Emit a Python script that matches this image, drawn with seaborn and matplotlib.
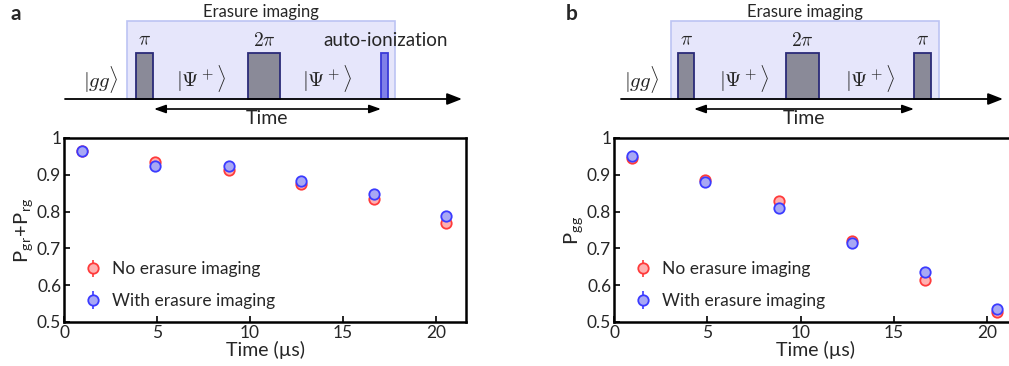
import numpy as np
import matplotlib
matplotlib.use("Agg")
import matplotlib.pyplot as plt
from matplotlib.patches import Rectangle
from matplotlib.ticker import FixedLocator, FixedFormatter
import seaborn as sns

# ---- data -------------------------------------------------------------
time_us = [0.95, 4.9, 8.85, 12.75, 16.65, 20.55]

# panel a: P_gr + P_rg
a_no_erasure = [0.965, 0.936, 0.912, 0.875, 0.833, 0.769]
a_no_erasure_err = [0.005, 0.006, 0.006, 0.007, 0.008, 0.010]
a_with_erasure = [0.964, 0.923, 0.923, 0.882, 0.847, 0.788]
a_with_erasure_err = [0.005, 0.006, 0.006, 0.007, 0.008, 0.010]

# panel b: P_gg
b_no_erasure = [0.947, 0.887, 0.828, 0.721, 0.615, 0.526]
b_no_erasure_err = [0.006, 0.007, 0.009, 0.011, 0.013, 0.012]
b_with_erasure = [0.950, 0.881, 0.809, 0.714, 0.636, 0.536]
b_with_erasure_err = [0.006, 0.007, 0.009, 0.011, 0.013, 0.013]

series_labels = ["No erasure imaging", "With erasure imaging"]
x_ticks = [0, 5, 10, 15, 20]
y_ticks = [0.5, 0.6, 0.7, 0.8, 0.9, 1.0]
y_tick_labels = ["0.5", "0.6", "0.7", "0.8", "0.9", "1"]

# ---- style ------------------------------------------------------------
sns.set_style("ticks")
plt.rcParams["font.family"] = ["Lato", "DejaVu Sans"]
plt.rcParams["mathtext.fontset"] = "cm"

RED_EDGE = "#ff3b3b"
RED_FACE = "#ffb0b0"
BLUE_EDGE = "#3b3bff"
BLUE_FACE = "#a8a8f4"

W, H = 1009, 366
fig = plt.figure(figsize=(W / 100, H / 100), dpi=100)


def px_axes(x0, y0, x1, y1):
    """Axes placed by pixel box (top-left origin)."""
    return fig.add_axes([x0 / W, 1 - y1 / H, (x1 - x0) / W, (y1 - y0) / H])


def draw_panel(ax, no_vals, no_err, with_vals, with_err, ylabel):
    for vals, errs, edge, face, lab in [
        (no_vals, no_err, RED_EDGE, RED_FACE, series_labels[0]),
        (with_vals, with_err, BLUE_EDGE, BLUE_FACE, series_labels[1]),
    ]:
        ax.errorbar(time_us, vals, yerr=errs, fmt="o", ms=7.5, mfc=face,
                    mec=edge, mew=1.3, ecolor=edge, elinewidth=1.2,
                    capsize=0, label=lab)
    ax.set_xlim(0, 21.6)
    ax.set_ylim(0.5, 1.0)
    ax.xaxis.set_major_locator(FixedLocator(x_ticks))
    ax.yaxis.set_major_locator(FixedLocator(y_ticks))
    ax.yaxis.set_major_formatter(FixedFormatter(y_tick_labels))
    ax.tick_params(direction="in", length=4, width=1.4, labelsize=12.5,
                   pad=2, top=False, right=False)
    for s in ax.spines.values():
        s.set_linewidth(1.8)
        s.set_visible(True)
        s.set_color("black")
    ax.set_xlabel("Time (µs)", fontsize=14, labelpad=0)
    ax.set_ylabel(ylabel, fontsize=14.5, labelpad=1)
    leg = ax.legend(loc="lower left", bbox_to_anchor=(0.022, 0.005),
                    frameon=False, fontsize=12.5, handlelength=0.9,
                    handletextpad=0.65, labelspacing=0.9, borderaxespad=0.3)
    return leg


ax_a = px_axes(64, 138, 466, 322)
draw_panel(ax_a, a_no_erasure, a_no_erasure_err, a_with_erasure,
           a_with_erasure_err,
           r"P$_{\mathregular{gr}}$+P$_{\mathregular{rg}}$")

ax_b = px_axes(614, 138, 1017, 322)
draw_panel(ax_b, b_no_erasure, b_no_erasure_err, b_with_erasure,
           b_with_erasure_err, r"P$_{\mathregular{gg}}$")

# ---- pulse-sequence schematics ---------------------------------------
sch = fig.add_axes([0, 0, 1, 1], zorder=-1)
sch.set_xlim(0, W)
sch.set_ylim(H, 0)
sch.axis("off")

BOX_FACE = "#e6e6fb"
BOX_EDGE = "#bcc4f3"
PULSE_FACE = "#8a8a98"
PULSE_EDGE = "#2a2a78"
ION_FACE = "#8080e8"
ION_EDGE = "#3a3ad8"
BASE_Y = 99
PULSE_TOP = 53


def pulse(x0, x1, face=PULSE_FACE, edge=PULSE_EDGE):
    sch.add_patch(Rectangle((x0, PULSE_TOP), x1 - x0, BASE_Y - PULSE_TOP,
                            fc=face, ec=edge, lw=1.3, zorder=3))


def schematic(box, line, pulses, labels, ion, arrow, panel):
    bx0, bx1 = box
    sch.add_patch(Rectangle((bx0, 21), bx1 - bx0, BASE_Y - 21, fc=BOX_FACE,
                            ec=BOX_EDGE, lw=1.2, zorder=1))
    sch.text((bx0 + bx1) / 2, 12, "Erasure imaging", ha="center",
             va="center", fontsize=12)
    lx0, lx1 = line
    sch.annotate("", xy=(lx1, BASE_Y), xytext=(lx0, BASE_Y),
                 arrowprops=dict(arrowstyle="-|>,head_length=0.9,head_width=0.35",
                                 lw=1.3, color="black", shrinkA=0, shrinkB=0),
                 zorder=4)
    for (x0, x1), lab in zip(pulses, labels):
        pulse(x0, x1)
        sch.text((x0 + x1) / 2, 40, lab, ha="center", va="center",
                 fontsize=14)
    if ion is not None:
        pulse(ion[0], ion[1], ION_FACE, ION_EDGE)
        sch.text((ion[0] + ion[1]) / 2 + 1, 40, "auto-ionization",
                 ha="center", va="center", fontsize=13.5)
    gg_x, psi1_x, psi2_x = panel["states"]
    sch.text(gg_x, 79, r"$|gg\rangle$", ha="center", va="center", fontsize=15)
    sch.text(psi1_x, 78, r"$|\Psi^+\rangle$", ha="center", va="center",
             fontsize=15)
    sch.text(psi2_x, 78, r"$|\Psi^+\rangle$", ha="center", va="center",
             fontsize=15)
    ax0, ax1 = arrow
    sch.annotate("", xy=(ax1, 109), xytext=(ax0, 109),
                 arrowprops=dict(arrowstyle="<|-|>,head_length=0.7,head_width=0.25",
                                 lw=1.2, color="black", shrinkA=0, shrinkB=0))
    sch.text((ax0 + ax1) / 2, 119, "Time", ha="center", va="center",
             fontsize=14)
    sch.text(panel["lx"], 14, panel["letter"], ha="center", va="center",
             fontsize=15, fontweight="bold")


schematic(box=(127, 395), line=(65, 462),
          pulses=[(136, 153), (248, 280)], labels=[r"$\pi$", r"$2\pi$"],
          ion=(381, 388), arrow=(154, 381),
          panel=dict(states=(101, 201, 327), lx=16, letter="a"))

schematic(box=(671, 939), line=(621, 1003),
          pulses=[(678, 694), (786, 819), (914, 931)],
          labels=[r"$\pi$", r"$2\pi$", r"$\pi$"],
          ion=None, arrow=(694, 914),
          panel=dict(states=(642, 744, 870), lx=572, letter="b"))

fig.savefig("out.png", dpi=100)
